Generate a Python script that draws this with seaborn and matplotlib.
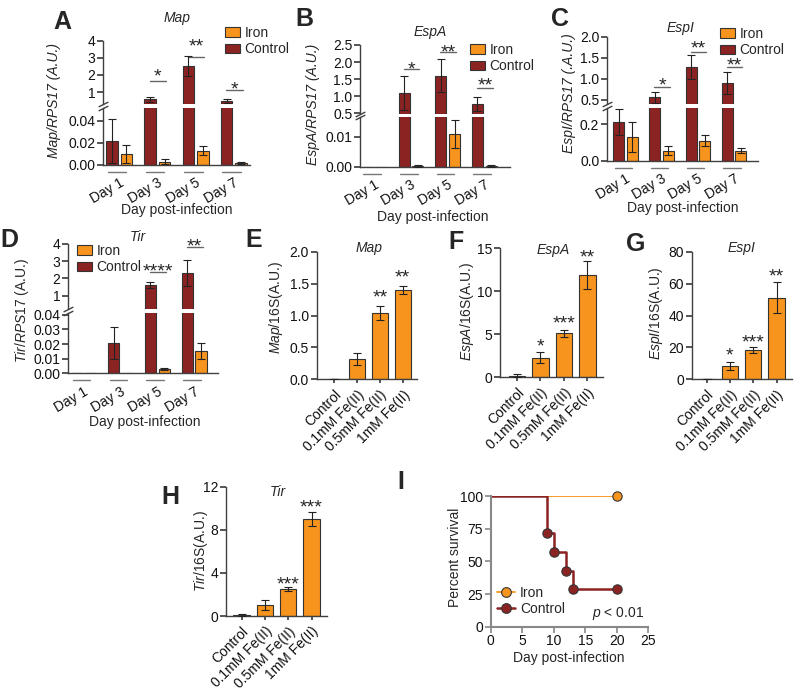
import numpy as np
import pandas as pd
import seaborn as sns
import matplotlib.pyplot as plt
from matplotlib import transforms
from matplotlib.patches import Patch
from matplotlib.lines import Line2D

# ---- data -------------------------------------------------------------
days = ['Day 1', 'Day 3', 'Day 5', 'Day 7']
conc = ['Control', '0.1mM Fe(II)', '0.5mM Fe(II)', '1mM Fe(II)']

# A  Map/RPS17
map_ctrl = [0.022, 0.57, 2.53, 0.49]
map_ctrl_err = [0.020, 0.15, 0.58, 0.11]
map_iron = [0.010, 0.003, 0.013, 0.002]
map_iron_err = [0.008, 0.002, 0.004, 0.001]
# B  EspA/RPS17
espa_ctrl = [0.0, 1.10, 1.60, 0.77]
espa_ctrl_err = [0.0, 0.50, 0.48, 0.20]
espa_iron = [0.0, 0.0003, 0.011, 0.0004]
espa_iron_err = [0.0, 0.0002, 0.0047, 0.0003]
# C  EspI/RPS17
espi_ctrl = [0.21, 0.555, 1.28, 0.90]
espi_ctrl_err = [0.07, 0.12, 0.29, 0.27]
espi_iron = [0.13, 0.055, 0.11, 0.055]
espi_iron_err = [0.08, 0.025, 0.03, 0.012]
# D  Tir/RPS17
tir_ctrl = [0.0, 0.021, 1.62, 2.30]
tir_ctrl_err = [0.0, 0.011, 0.18, 0.77]
tir_iron = [0.0, 0.0, 0.003, 0.015]
tir_iron_err = [0.0, 0.0, 0.0008, 0.0055]

# E-H  in vitro /16S
map16 = [0.005, 0.32, 1.04, 1.40]
map16_err = [0.003, 0.09, 0.11, 0.07]
espa16 = [0.2, 2.28, 5.1, 11.9]
espa16_err = [0.15, 0.67, 0.4, 1.6]
espi16 = [0.3, 8.6, 18.4, 51.1]
espi16_err = [0.2, 2.5, 1.65, 9.8]
tir16 = [0.1, 1.02, 2.5, 9.0]
tir16_err = [0.08, 0.47, 0.16, 0.68]

# I  survival
iron_days = [0, 20]
iron_surv = [100, 100]
ctrl_days = [0, 9, 10, 12, 13, 20]
ctrl_surv = [100, 71.4, 57.1, 42.9, 28.6, 28.6]

# significance: (group, bar-line value, star value, label)
sig_a = [(1, 1.66, 2.25, '*'), (2, 3.05, 4.0, '**'), (3, 1.12, 1.50, '*')]
sig_b = [(1, 1.79, 1.95, '*'), (2, 2.30, 2.46, '**'), (3, 1.23, 1.50, '**')]
sig_c = [(1, 0.80, 0.99, '*'), (2, 1.64, 1.86, '**'), (3, 1.29, 1.45, '**')]
sig_d = [(2, 2.39, 2.75, '****'), (3, 3.83, 4.2, '**')]
sig_e = [(2, 1.37, '**'), (3, 1.69, '**')]
sig_f = [(1, 4.3, '*'), (2, 6.9, '***'), (3, 14.6, '**')]
sig_g = [(1, 18.4, '*'), (2, 26.5, '***'), (3, 68.1, '**')]
sig_h = [(2, 3.5, '***'), (3, 10.6, '***')]

# ---- style ------------------------------------------------------------
W, H = 800, 691
ORANGE = '#F7941D'
RED = '#8B2323'
EDGE = '#333333'
AXC = '#404040'

sns.set_theme(style='ticks')
plt.rcParams['font.family'] = ['Liberation Sans', 'DejaVu Sans']
plt.rcParams.update({
    'mathtext.fontset': 'custom',
    'mathtext.rm': 'Liberation Sans',
    'mathtext.it': 'Liberation Sans:italic',
    'font.size': 10,
    'axes.edgecolor': AXC,
    'axes.linewidth': 1.0,
    'xtick.color': AXC,
    'ytick.color': AXC,
    'xtick.labelcolor': '#111111',
    'ytick.labelcolor': '#111111',
    'xtick.labelsize': 10,
    'ytick.labelsize': 10,
    'xtick.major.size': 4,
    'ytick.major.size': 4,
    'xtick.major.pad': 1.5,
    'ytick.major.pad': 1.5,
})

fig = plt.figure(figsize=(W / 100, H / 100), dpi=100)


def add_ax(x0, y0, x1, y1):
    return fig.add_axes([x0 / W, 1 - y1 / H, (x1 - x0) / W, (y1 - y0) / H])


def ftext(x, y, s, **kw):
    kw.setdefault('ha', 'center')
    kw.setdefault('va', 'center')
    kw.setdefault('fontsize', 10)
    fig.text(x / W, 1 - y / H, s, **kw)


def star(ax, x, y, s):
    ax.annotate(s, (x, y), xytext=(0, -4.6), textcoords='offset points',
                ha='center', va='center', fontsize=14, annotation_clip=False)


def legend(ax, handles, x, y, **kw):
    ax.legend(handles=handles, loc='upper left', bbox_to_anchor=(x / W, 1 - y / H),
              bbox_transform=fig.transFigure, frameon=False, borderpad=0,
              borderaxespad=0, fontsize=10, handletextpad=0.35,
              labelspacing=0.15, **kw)


def bar_legend(ax, x, y):
    h = [Patch(facecolor=ORANGE, edgecolor=EDGE, lw=0.8, label='Iron'),
         Patch(facecolor=RED, edgecolor=EDGE, lw=0.8, label='Control')]
    legend(ax, h, x, y, handlelength=1.05, handleheight=0.65)


def add_err(ax, xs, vals, errs):
    keep = [i for i, e in enumerate(errs) if e > 0]
    ax.errorbar([xs[i] for i in keep], [vals[i] for i in keep],
                yerr=[errs[i] for i in keep], fmt='none', ecolor='#222222',
                elinewidth=0.8, capsize=3, capthick=0.8, zorder=3)


def broken_panel(ctrl, ctrl_err, iron, iron_err, box, split, up_lim, up_ticks,
                 up_labels, lo_lim, lo_ticks, lo_labels, xlim, sigs):
    x0, y0, x1, y1 = box
    ax_up = add_ax(x0, y0, x1, split[0])
    ax_lo = add_ax(x0, split[1], x1, y1)
    df = pd.DataFrame({'day': days * 2,
                       'group': ['Control'] * 4 + ['Iron'] * 4,
                       'value': list(ctrl) + list(iron)})
    for ax in (ax_up, ax_lo):
        sns.barplot(data=df, x='day', y='value', hue='group', order=days,
                    hue_order=['Control', 'Iron'], palette=[RED, ORANGE],
                    saturation=1, width=0.75, gap=0.2, edgecolor=EDGE,
                    linewidth=0.8, errorbar=None, legend=False, ax=ax)
        add_err(ax, [i - 0.1875 for i in range(4)], ctrl, ctrl_err)
        add_err(ax, [i + 0.1875 for i in range(4)], iron, iron_err)
        ax.set_xlim(xlim)
        ax.set_xlabel('')
        ax.set_ylabel('')
        sns.despine(ax=ax)
    ax_up.set_ylim(up_lim)
    ax_up.set_yticks(up_ticks, up_labels)
    ax_up.spines['bottom'].set_visible(False)
    ax_up.tick_params(axis='x', bottom=False, labelbottom=False)
    ax_lo.set_ylim(lo_lim)
    ax_lo.set_yticks(lo_ticks, lo_labels)
    ax_lo.set_xticks(range(4))
    ax_lo.set_xticklabels(days, rotation=30, ha='right', rotation_mode='anchor')
    ax_lo.tick_params(axis='x', length=0, pad=8)
    # break marks
    kw = dict(marker=[(-1, -0.5), (1, 0.5)], markersize=7, linestyle='none',
              color=AXC, mec=AXC, mew=1, clip_on=False)
    ax_up.plot([0], [0], transform=ax_up.transAxes, **kw)
    ax_lo.plot([0], [1], transform=ax_lo.transAxes, **kw)
    # group separators
    trans = transforms.blended_transform_factory(ax_lo.transData, ax_lo.transAxes)
    off = -7 / (y1 - split[1])
    for i in range(4):
        ax_lo.plot([i - 0.3, i + 0.18], [off, off], transform=trans,
                   color='#777777', lw=1, clip_on=False)
    for i, ly, sy, s in sigs:
        ax_up.plot([i - 0.2, i + 0.23], [ly, ly], color='#666666', lw=1,
                   clip_on=False)
        star(ax_up, i + 0.015, sy, s)
    return ax_up, ax_lo


def conc_panel(vals, errs, box, ylim, yticks, ylabels, xlim, sigs):
    ax = add_ax(*box)
    sns.barplot(x=conc, y=vals, hue=conc, palette=[RED, ORANGE, ORANGE, ORANGE],
                saturation=1, width=0.7, edgecolor=EDGE, linewidth=0.8,
                errorbar=None, legend=False, ax=ax)
    add_err(ax, list(range(4)), vals, errs)
    ax.set_xlim(xlim)
    ax.set_ylim(ylim)
    ax.set_yticks(yticks, ylabels)
    ax.set_xticks(range(4))
    ax.set_xticklabels(conc, rotation=45, ha='right', rotation_mode='anchor')
    ax.tick_params(axis='x', length=3, pad=3)
    sns.despine(ax=ax)
    for i, y, s in sigs:
        star(ax, i, y, s)
    return ax


# ---- A ---------------------------------------------------------------
ax_a, _ = broken_panel(map_ctrl, map_ctrl_err, map_iron, map_iron_err,
                       (103, 40.7, 250, 165), (104, 108), (0.30, 4), [1, 2, 3, 4],
                       ['1', '2', '3', '4'], (0, 0.0515), [0, 0.02, 0.04],
                       ['0.00', '0.02', '0.04'], (-0.42, 3.42), sig_a)
bar_legend(ax_a, 225, 26)
ftext(62, 22, 'A', fontsize=18, fontweight='bold')
ftext(177, 18, 'Map', fontstyle='italic')
ftext(54, 100, 'Map/RPS17 (A.U.)', rotation=90, fontstyle='italic')
ftext(177, 210, 'Day post-infection')

# ---- B ---------------------------------------------------------------
ax_b, _ = broken_panel(espa_ctrl, espa_ctrl_err, espa_iron, espa_iron_err,
                       (360, 45, 510, 167), (114, 117), (0.48, 2.5),
                       [0.5, 1.0, 1.5, 2.0, 2.5], ['0.5', '1.0', '1.5', '2.0', '2.5'],
                       (0, 0.0166), [0, 0.01], ['0.00', '0.01'], (-0.39, 3.7), sig_b)
bar_legend(ax_b, 470, 43)
ftext(304, 19, 'B', fontsize=18, fontweight='bold')
ftext(430, 32, 'EspA', fontstyle='italic')
ftext(313, 104, 'EspA/RPS17 (A.U.)', rotation=90, fontstyle='italic')
ftext(433, 217, 'Day post-infection')

# ---- C ---------------------------------------------------------------
ax_c, _ = broken_panel(espi_ctrl, espi_ctrl_err, espi_iron, espi_iron_err,
                       (607, 36.7, 758, 160.7), (104, 107.5), (0.40, 2.0),
                       [0.5, 1.0, 1.5, 2.0], ['0.5', '1.0', '1.5', '2.0'],
                       (0, 0.29), [0, 0.2], ['0.0', '0.2'], (-0.51, 3.66), sig_c)
bar_legend(ax_c, 720, 27)
ftext(560, 19, 'C', fontsize=18, fontweight='bold')
ftext(681, 28, 'EspI', fontstyle='italic')
ftext(569, 93, 'EspI/RPS17 (.A.U.)', rotation=90, fontstyle='italic')
ftext(683, 208, 'Day post-infection')

# ---- D ---------------------------------------------------------------
ax_d, _ = broken_panel(tir_ctrl, tir_ctrl_err, tir_iron, tir_iron_err,
                       (68, 244, 218, 373.3), (309, 313), (0.22, 4), [1, 2, 3, 4],
                       ['1', '2', '3', '4'], (0, 0.0413),
                       [0, 0.01, 0.02, 0.03, 0.04],
                       ['0.00', '0.01', '0.02', '0.03', '0.04'], (-0.43, 3.65), sig_d)
bar_legend(ax_d, 77, 244)
ftext(9, 240, 'D', fontsize=18, fontweight='bold')
ftext(138, 237, 'Tir', fontstyle='italic')
ftext(22, 310, r'$\it{Tir/RPS17}$ (A.U.)', rotation=90)
ftext(145, 422, 'Day post-infection')

# ---- E-H -------------------------------------------------------------
conc_panel(map16, map16_err, (316.7, 251.7, 416.7, 379.3), (0, 2.0),
           [0, 0.5, 1.0, 1.5, 2.0], ['0.0', '0.5', '1.0', '1.5', '2.0'],
           (-0.755, 3.61), sig_e)
ftext(254, 240, 'E', fontsize=18, fontweight='bold')
ftext(369, 248, 'Map', fontstyle='italic')
ftext(276, 308, r'$\it{Map}$/16S(A.U.)', rotation=90)

conc_panel(espa16, espa16_err, (500, 248.3, 603, 377.3), (0, 15),
           [0, 5, 10, 15], ['0', '5', '10', '15'], (-0.72, 3.66), sig_f)
ftext(456, 242, 'F', fontsize=18, fontweight='bold')
ftext(553, 250, 'EspA', fontstyle='italic')
ftext(467, 311, r'$\it{EspA}$/16S(A.U.)', rotation=90)

conc_panel(espi16, espi16_err, (691.7, 251.7, 791.7, 379.3), (0, 80),
           [0, 20, 40, 60, 80], ['0', '20', '40', '60', '80'], (-0.64, 3.65), sig_g)
ftext(636, 244, 'G', fontsize=18, fontweight='bold')
ftext(742, 248, 'EspI', fontstyle='italic')
ftext(656, 313, r'$\it{EspI}$/16S(A.U.)', rotation=90)

conc_panel(tir16, tir16_err, (226, 486.7, 326.7, 616), (0, 12),
           [0, 4, 8, 12], ['0', '4', '8', '12'], (-0.67, 3.65), sig_h)
ftext(170, 497, 'H', fontsize=18, fontweight='bold')
ftext(278, 492, 'Tir', fontstyle='italic')
ftext(201, 551, r'$\it{Tir}$/16S(A.U.)', rotation=90)

# ---- I ---------------------------------------------------------------
ax_i = add_ax(490.7, 496, 648.3, 626.7)
sns.lineplot(x=iron_days, y=iron_surv, drawstyle='steps-post', color=ORANGE,
             lw=1.3, ax=ax_i)
sns.lineplot(x=ctrl_days, y=ctrl_surv, drawstyle='steps-post', color=RED,
             lw=1.8, ax=ax_i)
sns.scatterplot(x=iron_days[1:], y=iron_surv[1:], color=ORANGE, edgecolor=EDGE,
                linewidth=0.8, s=45, zorder=4, clip_on=False, ax=ax_i)
sns.scatterplot(x=ctrl_days[1:], y=ctrl_surv[1:], color=RED, edgecolor=EDGE,
                linewidth=0.8, s=45, zorder=4, clip_on=False, ax=ax_i)
ax_i.set_xlim(0, 25)
ax_i.set_ylim(0, 100)
ax_i.set_xticks([0, 5, 10, 15, 20, 25])
ax_i.set_yticks([0, 25, 50, 75, 100])
for sp in ('left', 'bottom'):
    ax_i.spines[sp].set_color('#888888')
    ax_i.spines[sp].set_linewidth(1.5)
ax_i.tick_params(color='#888888', width=1.2)
sns.despine(ax=ax_i)
ax_i.set_xlabel('')
ax_i.set_ylabel('')
hi = [Line2D([0], [0], color=ORANGE, lw=1.3, marker='o', mfc=ORANGE, mec=EDGE,
             mew=0.8, ms=7, label='Iron'),
      Line2D([0], [0], color=RED, lw=1.8, marker='o', mfc=RED, mec=EDGE,
             mew=0.8, ms=7, label='Control')]
legend(ax_i, hi, 497, 586, handlelength=1.3)
ftext(618, 614, r'$\it{p}$ < 0.01')
ftext(401, 482, 'I', fontsize=18, fontweight='bold')
ftext(455, 557, 'Percent survival', rotation=90)
ftext(569, 658, 'Day post-infection')

fig.savefig('out.png', dpi=100)
